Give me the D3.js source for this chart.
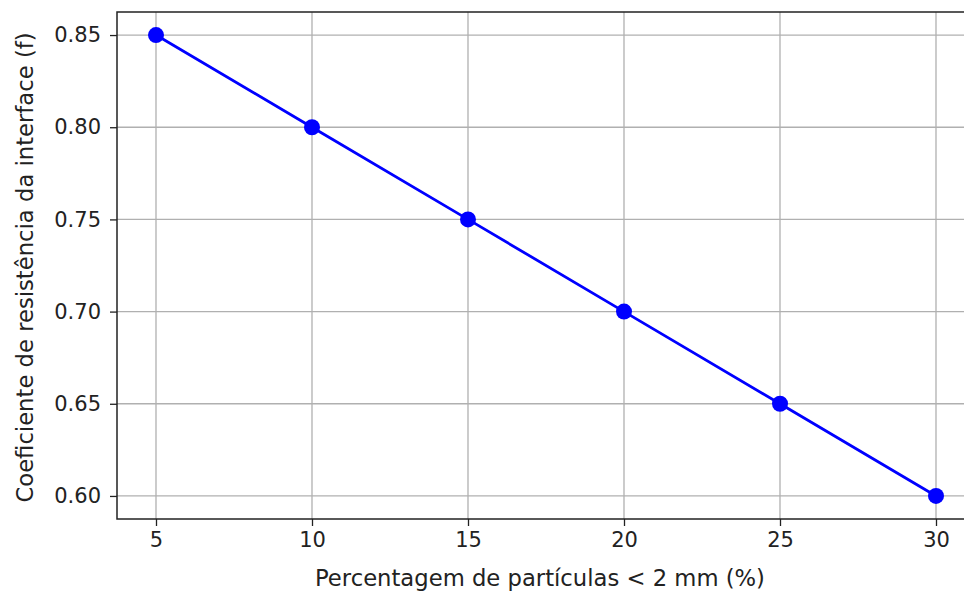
<!DOCTYPE html>
<html>
<head>
<meta charset="utf-8">
<script src="https://cdn.jsdelivr.net/npm/d3@7"></script>
<style>
  body { margin: 0; background: #fff; overflow: hidden; }
  text { font-family: "DejaVu Sans", sans-serif; fill: #222; }
</style>
</head>
<body>
<div id="chart-area"></div>
<script>
// data
const percentages = [5, 10, 15, 20, 25, 30]
const coefficients = [0.85, 0.80, 0.75, 0.70, 0.65, 0.60]
const xTicks = [5, 10, 15, 20, 25, 30]
const yTicks = [0.60, 0.65, 0.70, 0.75, 0.80, 0.85]

const MARGIN = { LEFT: 117, TOP: 12 }
const WIDTH = 975 - MARGIN.LEFT
const HEIGHT = 519 - MARGIN.TOP

const svg = d3.select("#chart-area").append("svg")
    .attr("width", 964)
    .attr("height", 592)

const g = svg.append("g")
    .attr("transform", `translate(${MARGIN.LEFT}, ${MARGIN.TOP})`)

const x = d3.scaleLinear().domain([3.75, 31.25]).range([0, WIDTH])
const y = d3.scaleLinear().domain([0.5875, 0.8625]).range([HEIGHT, 0])

// grid
g.selectAll(".vgrid").data(xTicks).enter().append("line")
    .attr("x1", d => x(d)).attr("x2", d => x(d))
    .attr("y1", 0).attr("y2", HEIGHT)
    .attr("stroke", "#b0b0b0").attr("stroke-width", 1.3)
g.selectAll(".hgrid").data(yTicks).enter().append("line")
    .attr("x1", 0).attr("x2", WIDTH)
    .attr("y1", d => y(d)).attr("y2", d => y(d))
    .attr("stroke", "#b0b0b0").attr("stroke-width", 1.3)

// axes
const xAxisCall = d3.axisBottom(x).tickValues(xTicks).tickSize(7).tickPadding(6).tickFormat(d3.format("d"))
const xAxis = g.append("g")
    .attr("transform", `translate(0, ${HEIGHT})`)
    .call(xAxisCall)
const yAxisCall = d3.axisLeft(y).tickValues(yTicks).tickSize(7).tickPadding(9).tickFormat(d3.format(".2f"))
const yAxis = g.append("g").call(yAxisCall)

;[xAxis, yAxis].forEach(a => {
    a.select(".domain").remove()
    a.selectAll("line").attr("stroke", "#222").attr("stroke-width", 1.3)
    a.selectAll("text").attr("font-size", "21px").attr("fill", "#222")
        .style("font-family", "'DejaVu Sans', sans-serif")
})

// frame
g.append("rect")
    .attr("width", WIDTH).attr("height", HEIGHT)
    .attr("fill", "none").attr("stroke", "#222").attr("stroke-width", 1.5)

// line + markers
const line = d3.line().x((d, i) => x(percentages[i])).y(d => y(d))
g.append("path")
    .datum(coefficients)
    .attr("d", line)
    .attr("fill", "none")
    .attr("stroke", "#0000ff")
    .attr("stroke-width", 2.8)

g.selectAll("circle").data(coefficients).enter().append("circle")
    .attr("cx", (d, i) => x(percentages[i]))
    .attr("cy", d => y(d))
    .attr("r", 8)
    .attr("fill", "#0000ff")

// labels
svg.append("text")
    .attr("x", 540)
    .attr("y", 586)
    .attr("font-size", "22.7px")
    .attr("text-anchor", "middle")
    .text("Percentagem de partículas < 2 mm (%)")

svg.append("text")
    .attr("transform", `translate(33, ${MARGIN.TOP + HEIGHT / 2 + 2}) rotate(-90)`)
    .attr("font-size", "22.7px")
    .attr("text-anchor", "middle")
    .text("Coeficiente de resistência da interface (f)")
</script>
</body>
</html>
